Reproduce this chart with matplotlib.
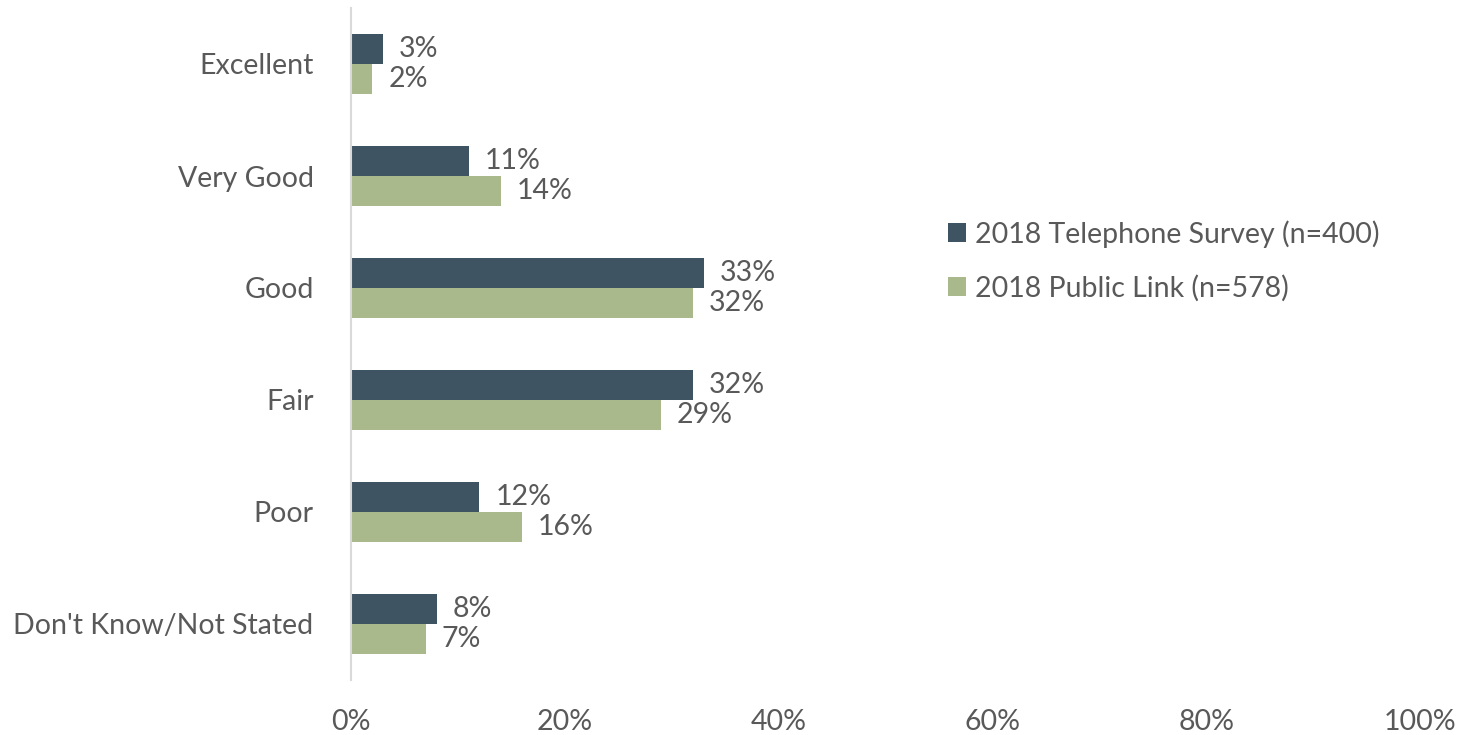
import matplotlib
matplotlib.use("Agg")
import matplotlib.pyplot as plt
import numpy as np

categories = ["Excellent", "Very Good", "Good", "Fair", "Poor", "Don't Know/Not Stated"]
series_names = ["2018 Telephone Survey (n=400)", "2018 Public Link (n=578)"]
telephone = [3, 11, 33, 32, 12, 8]
public_link = [2, 14, 32, 29, 16, 7]
xticks = [0, 20, 40, 60, 80, 100]
xtick_labels = ["0%", "20%", "40%", "60%", "80%", "100%"]

colors = ["#3F5463", "#A9B98B"]
text_color = "#595959"
fs = 20.5

plt.rcParams['font.family'] = ['Lato', 'DejaVu Sans']

fig = plt.figure(figsize=(14.65, 7.35), dpi=100)
ax = fig.add_axes([351/1465, 1-680/735, (1420-351)/1465, 672/735])

y = np.arange(len(categories))
h = 0.265
b1 = ax.barh(y - h/2, telephone, height=h, color=colors[0], label=series_names[0])
b2 = ax.barh(y + h/2, public_link, height=h, color=colors[1], label=series_names[1])

for bars, vals in ((b1, telephone), (b2, public_link)):
    for bar, v in zip(bars, vals):
        ax.annotate(f"{v}%", xy=(bar.get_width(), bar.get_y() + bar.get_height()/2),
                    xytext=(11.5, 0), textcoords="offset points",
                    ha="left", va="center", fontsize=fs, color=text_color)

ax.set_ylim(len(categories) - 0.5, -0.5)
ax.set_xlim(0, 100)
ax.set_yticks(y)
ax.set_yticklabels(categories)
ax.set_xticks(xticks)
ax.set_xticklabels(xtick_labels)
ax.tick_params(axis='y', length=0, pad=27, labelsize=fs, labelcolor=text_color)
ax.tick_params(axis='x', length=0, pad=21, labelsize=fs, labelcolor=text_color)
for s in ["top", "right", "bottom"]:
    ax.spines[s].set_visible(False)
ax.spines["left"].set_color("#D9D9D9")
ax.spines["left"].set_linewidth(1.5)

leg = ax.legend(loc="center left", bbox_to_anchor=(922/1465, 1-261/735),
                bbox_transform=fig.transFigure, frameon=False, fontsize=fs,
                handlelength=0.65, handleheight=0.65, handletextpad=0.3,
                labelspacing=0.95)
for t in leg.get_texts():
    t.set_color(text_color)

fig.savefig("out.png", dpi=100)
